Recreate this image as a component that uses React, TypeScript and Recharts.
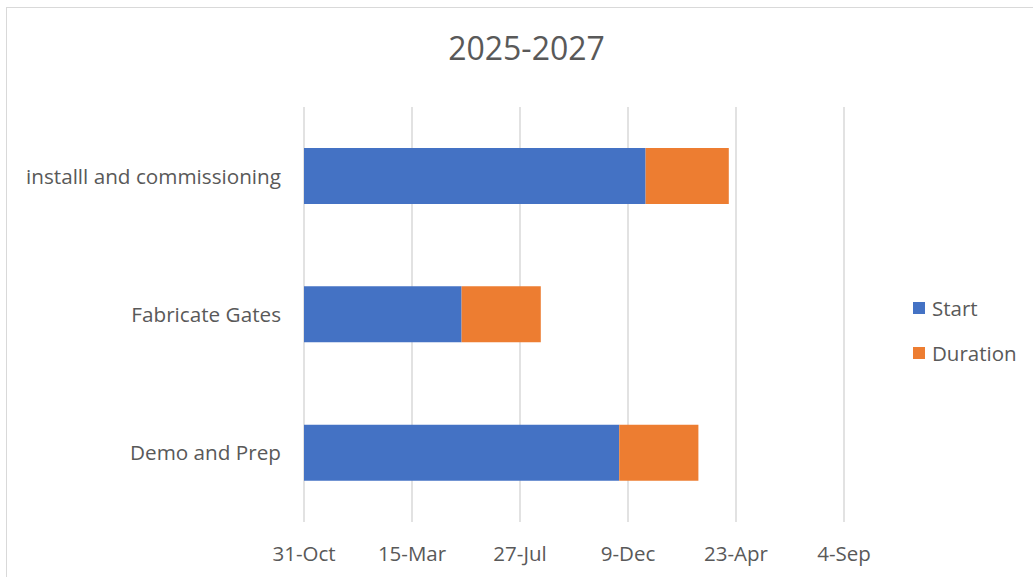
import { BarChart, Bar, XAxis, YAxis, CartesianGrid, Legend } from 'recharts';

// days counted from 31-Oct (axis start)
const tasks = ['installl and commissioning', 'Fabricate Gates', 'Demo and Prep'];
const startDays = [427, 197, 394];
const durationDays = [104, 99, 99];

const tickDays = [0, 135, 270, 405, 540, 675];
const tickLabels = ['31-Oct', '15-Mar', '27-Jul', '9-Dec', '23-Apr', '4-Sep'];
const seriesOrder = ['Start', 'Duration'];

const FONT = '"Open Sans", sans-serif';
const TEXT = '#595959';

const data = tasks.map((name, i) => ({
  name,
  start: startDays[i],
  duration: durationDays[i],
}));

function LegendBox({ payload }: any) {
  const items = [...(payload || [])].sort(
    (a: any, b: any) => seriesOrder.indexOf(a.value) - seriesOrder.indexOf(b.value)
  );
  return (
    <div style={{ fontFamily: FONT, fontSize: 20.5, color: TEXT }}>
      {items.map((p: any) => (
        <div key={p.value} style={{ display: 'flex', alignItems: 'center', height: 45 }}>
          <span style={{ width: 12, height: 12, background: p.color, marginRight: 7 }} />
          {p.value}
        </div>
      ))}
    </div>
  );
}

export default function App() {
  return (
    <div style={{ position: 'absolute', left: 0, top: 0, width: 1033, height: 577, background: '#fff', fontFamily: FONT }}>
      <div
        style={{
          position: 'absolute',
          left: 6,
          top: 7,
          width: 1040,
          height: 600,
          borderTop: '1.5px solid #d9d9d9',
          borderLeft: '1.5px solid #d9d9d9',
        }}
      />
      <div
        style={{
          position: 'absolute',
          left: 0,
          width: 1033,
          top: 26,
          textAlign: 'center',
          fontSize: 32,
          color: TEXT,
          paddingLeft: 20,
          boxSizing: 'border-box',
        }}
      >
        2025-2027
      </div>
      <div style={{ position: 'absolute', left: 0, top: 0 }}>
        <BarChart
          width={1033}
          height={577}
          data={data}
          layout="vertical"
          margin={{ top: 107, right: 69, left: 14, bottom: 25 }}
        >
          <CartesianGrid vertical horizontal={false} stroke="#d9d9d9" strokeWidth={1.5} />
          <XAxis
            type="number"
            domain={[0, 675]}
            ticks={tickDays}
            tickFormatter={(v: number) => tickLabels[tickDays.indexOf(v)]}
            axisLine={false}
            tickLine={false}
            tickSize={0}
            tickMargin={24}
            height={30}
            tick={{ fontSize: 20.5, fill: TEXT, fontFamily: FONT }}
            interval={0}
          />
          <YAxis
            type="category"
            dataKey="name"
            width={290}
            axisLine={false}
            tickLine={false}
            tickSize={0}
            tickMargin={23}
            tick={{ fontSize: 20.7, fill: TEXT, fontFamily: FONT }}
          />
          <Legend
            layout="vertical"
            align="right"
            verticalAlign="middle"
            content={<LegendBox />}
            wrapperStyle={{ left: 913, top: 285, width: 120 }}
          />
          <Bar dataKey="start" name="Start" stackId="a" fill="#4472C4" barSize={56} isAnimationActive={false} />
          <Bar dataKey="duration" name="Duration" stackId="a" fill="#ED7D31" barSize={56} isAnimationActive={false} />
        </BarChart>
      </div>
    </div>
  );
}
